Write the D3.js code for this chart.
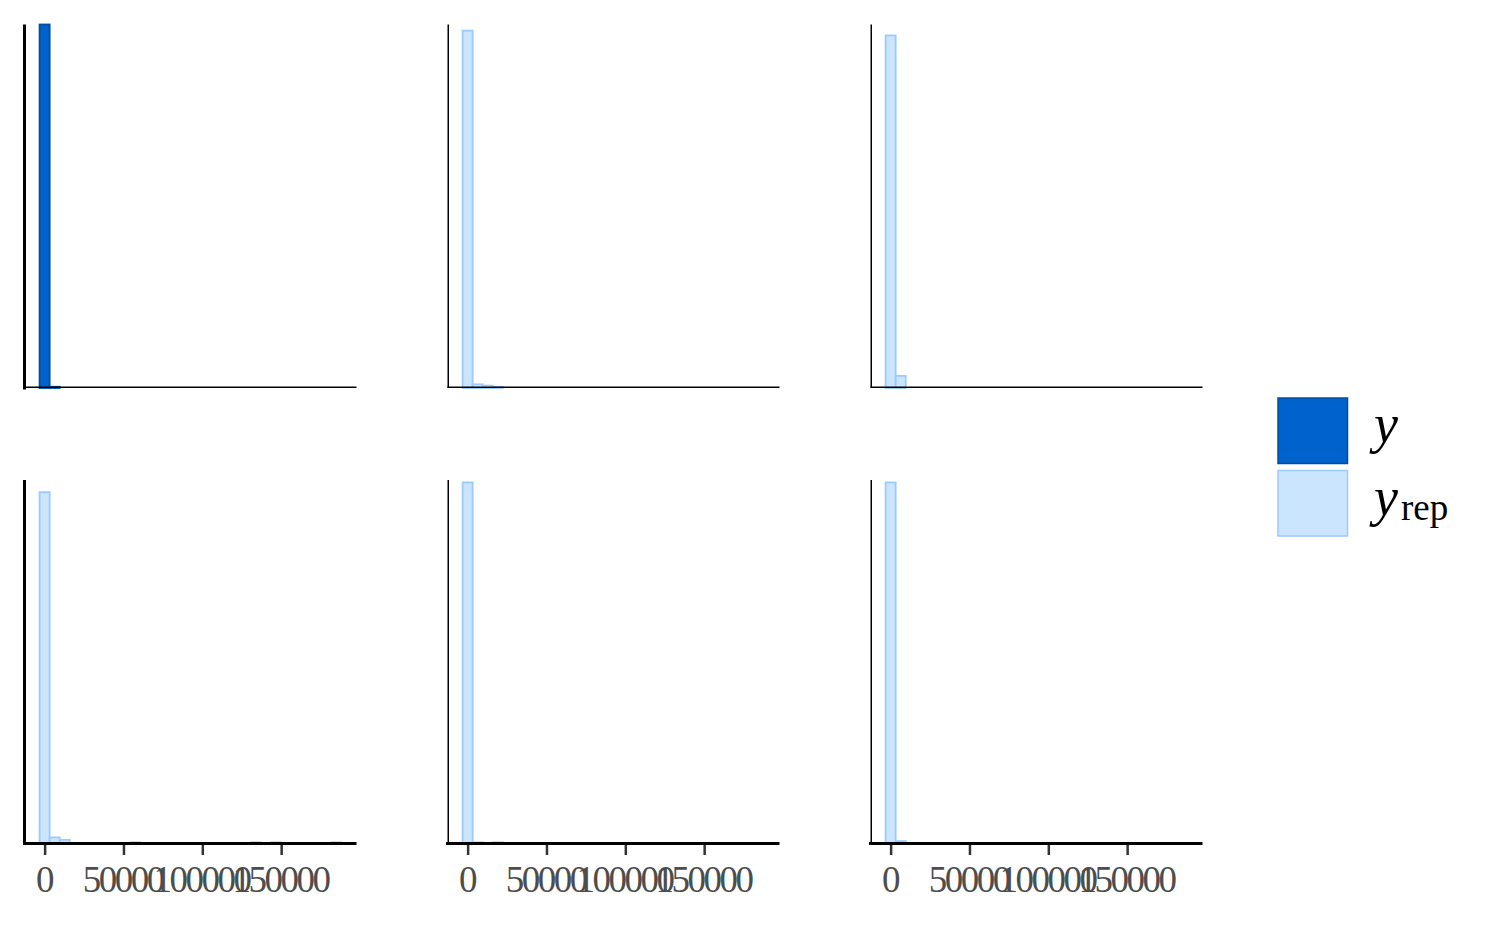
<!DOCTYPE html>
<html>
<head>
<meta charset="utf-8">
<script src="https://cdn.jsdelivr.net/npm/d3@7"></script>
<style>
  html, body { margin: 0; padding: 0; background: #ffffff; }
  svg { display: block; }
</style>
</head>
<body>
<svg id="chart" width="1500" height="927"></svg>
<script>
// ---- data ----
const binEdges = [-3190, 3190, 9570, 15950, 22330, 28710, 35090, 41470, 47850, 54230,
  60610, 66990, 73370, 79750, 86130, 92510, 98890, 105270, 111650, 118030,
  124410, 130790, 137170, 143550, 149930, 156310, 162690, 169070, 175450, 181830, 188210];

const yCounts     = [299, 1, 0, 0, 0, 0, 0, 0, 0, 0, 0, 0, 0, 0, 0, 0, 0, 0, 0, 0, 0, 0, 0, 0, 0, 0, 0, 0, 0, 0];
const yrep1Counts = [294, 3, 2, 1, 0, 0, 0, 0, 0, 0, 0, 0, 0, 0, 0, 0, 0, 0, 0, 0, 0, 0, 0, 0, 0, 0, 0, 0, 0, 0];
const yrep2Counts = [290, 10, 0, 0, 0, 0, 0, 0, 0, 0, 0, 0, 0, 0, 0, 0, 0, 0, 0, 0, 0, 0, 0, 0, 0, 0, 0, 0, 0, 0];
const yrep3Counts = [289, 5, 3, 0, 0, 0, 0, 0, 0, 1, 0, 0, 0, 0, 0, 0, 0, 0, 0, 0, 0, 1, 0, 1, 0, 0, 0, 0, 0, 1];
const yrep4Counts = [297, 1, 0, 1, 0, 0, 0, 0, 0, 0, 0, 0, 0, 0, 0, 0, 0, 0, 0, 0, 0, 0, 0, 0, 0, 0, 0, 0, 0, 0];
const yrep5Counts = [297, 2, 0, 0, 0, 0, 0, 0, 0, 0, 0, 0, 0, 0, 0, 0, 0, 0, 0, 0, 0, 0, 0, 0, 0, 0, 0, 0, 0, 0];

const xTickValues = [0, 50000, 100000, 150000];
const xTickLabels = ["0", "50000", "100000", "150000"];
const legendLabels = ["y", "yrep"];

// ---- styling ----
const colors = {
  y:    { fill: "#0062cc", stroke: "#004f9e" },
  yrep: { fill: "#cce5ff", stroke: "#99cbff" }
};

const panels = [
  { counts: yCounts,     kind: "y" },
  { counts: yrep1Counts, kind: "yrep" },
  { counts: yrep2Counts, kind: "yrep" },
  { counts: yrep3Counts, kind: "yrep" },
  { counts: yrep4Counts, kind: "yrep" },
  { counts: yrep5Counts, kind: "yrep" }
];

const colX = [24.5, 447.5, 870.5];
const rowY = [24.5, 480];
const pw = 332, ph = 363.5;

const svg = d3.select("#chart");

// shared scales (ggplot: 5% expansion on x, none on top of y)
const lo = binEdges[0], hi = binEdges[binEdges.length - 1];
const pad = (hi - lo) * 0.05;
const x = d3.scaleLinear().domain([lo - pad, hi + pad]).range([0, pw]);
const yMax = d3.max(panels, p => d3.max(p.counts));
const y = d3.scaleLinear().domain([0, yMax]).range([ph, 0]);

panels.forEach((p, i) => {
  const col = i % 3, row = Math.floor(i / 3);
  const g = svg.append("g").attr("transform", `translate(${colX[col]},${rowY[row]})`);
  const c = colors[p.kind];

  const bins = p.counts.map((n, k) => ({ x0: binEdges[k], x1: binEdges[k + 1], n }));
  g.selectAll("rect.bar").data(bins).enter().append("rect")
    .attr("class", "bar")
    .attr("x", d => x(d.x0))
    .attr("width", d => x(d.x1) - x(d.x0))
    .attr("y", d => y(d.n))
    .attr("height", d => y(0) - y(d.n))
    .attr("fill", c.fill)
    .attr("stroke", c.stroke)
    .attr("stroke-width", 1.8);

  // axis lines: outer edges full width, interior ones clipped to half width
  const leftOuter = col === 0, bottomOuter = row === 1;
  if (leftOuter) {
    g.append("line").attr("x1", 0).attr("x2", 0).attr("y1", 0).attr("y2", ph + 1.5)
      .attr("stroke", "#000").attr("stroke-width", 3);
  } else {
    g.append("line").attr("x1", 0.75).attr("x2", 0.75).attr("y1", 0).attr("y2", ph)
      .attr("stroke", "#000").attr("stroke-width", 1.5);
  }
  if (bottomOuter) {
    g.append("line").attr("x1", -1.5).attr("x2", pw).attr("y1", ph).attr("y2", ph)
      .attr("stroke", "#000").attr("stroke-width", 3);
    const ax = d3.axisBottom(x)
      .tickValues(xTickValues)
      .tickFormat((d, k) => xTickLabels[k])
      .tickSize(10)
      .tickPadding(11);
    const axg = g.append("g").attr("transform", `translate(0,${ph + 1.5})`).call(ax);
    axg.select(".domain").remove();
    axg.selectAll(".tick line").attr("stroke", "#333333").attr("stroke-width", 2.5);
    axg.selectAll(".tick text")
      .attr("fill", "#4d4d4d")
      .attr("font-family", "'Liberation Serif', 'DejaVu Serif', serif")
      .attr("font-size", 37)
      .attr("letter-spacing", "-2.5px")
      .attr("dx", "-1.2px");
  } else {
    g.append("line").attr("x1", 0).attr("x2", pw).attr("y1", ph - 0.75).attr("y2", ph - 0.75)
      .attr("stroke", "#000").attr("stroke-width", 1.5);
  }
});

// ---- legend ----
const lg = svg.append("g").attr("transform", "translate(1278,398)");
const keys = [
  { kind: "y", label: legendLabels[0], top: 0 },
  { kind: "yrep", label: legendLabels[1], top: 72.5 }
];
keys.forEach(k => {
  lg.append("rect")
    .attr("x", 0).attr("y", k.top)
    .attr("width", 69.5).attr("height", 65.5)
    .attr("fill", colors[k.kind].fill)
    .attr("stroke", colors[k.kind].stroke)
    .attr("stroke-width", 1.5);
  const t = lg.append("text")
    .attr("x", 96)
    .attr("y", k.top + 44)
    .attr("font-family", "'Liberation Serif', 'DejaVu Serif', serif")
    .attr("font-size", 54)
    .attr("fill", "#000");
  t.append("tspan").attr("font-style", "italic").text("y");
  if (k.label === "yrep") {
    t.append("tspan").attr("font-size", 37).attr("dx", 3).attr("dy", 5).text("rep");
  }
});
</script>
</body>
</html>
